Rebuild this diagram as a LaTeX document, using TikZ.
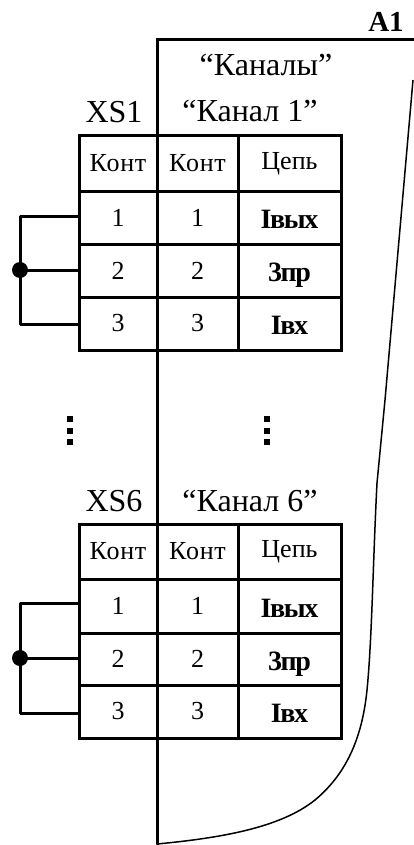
\documentclass[tikz,border=0pt]{standalone}
\usepackage{fontspec}
\setmainfont{Liberation Serif}
\newcommand{\sigtext}[1]{\raisebox{-11pt}[0pt][0pt]{\fontsize{28}{28}\selectfont\bfseries\addfontfeature{LetterSpace=-5}#1}}
\newcommand{\konttext}{{\addfontfeature{LetterSpace=3}Конт}}
\newcommand{\cellrow}[7]{%
  % #1 prefix, #2 row, #3 top y, #4 bottom y, #5..#7 texts
  \pgfmathsetmacro{\cy}{(#3+#4)/2}
  \pgfmathsetmacro{\ch}{#4-#3}
  \node[cell,minimum width=78pt,minimum height=\ch pt] (#1a#2) at (118,\cy) {#5};
  \node[cell,minimum width=81pt,minimum height=\ch pt] (#1b#2) at (197.5,\cy) {#6};
  \node[cell,minimum width=103pt,minimum height=\ch pt] (#1c#2) at (289.5,\cy) {#7};
}
\begin{document}
\begin{tikzpicture}[x=1pt,y=-1pt,
  cell/.style={draw=black,line width=3pt,inner sep=0pt,font=\fontsize{26}{26}\selectfont},
  head/.style={inner sep=0pt,font=\fontsize{32}{32}\selectfont},
  wire/.style={draw=black,line width=3pt},
  nosh/.style={inner sep=0pt},
  dotn/.style={circle,fill=black,inner sep=0pt,minimum size=16pt},
  sq/.style={fill=black,inner sep=0pt,minimum size=6pt}]
\useasboundingbox (0,0) rectangle (414,845);
\fill[white] (0,0) rectangle (414,845);
% module outline
\coordinate (tr) at (414,40);
\coordinate (tl) at (157,40);
\coordinate (bl) at (157,844);
\draw[wire,line cap=round] (tr) -- (tl) -- (bl);
\draw[black,line width=1.5pt] (413,80) -- (385,400) -- (377,483) .. controls (373,560) and (372,640) .. (367,690)
  .. controls (362,740) and (345,775) .. (315,800) .. controls (280,828) and (220,838) .. (bl);
\node[nosh,font=\fontsize{29}{29}\selectfont\bfseries] (a1) at (386,22) {A1};
\node[head] (kanaly) at (266,65) {“Каналы”};
% upper table
\node[head] (xs1) at (114,112) {XS1};
\node[head] (k1) at (250,111) {“Канал 1”};
\cellrow{p}{0}{136}{191}{\konttext}{\konttext}{Цепь}
\cellrow{p}{1}{191}{244}{1}{1}{\sigtext{Iвых}}
\cellrow{p}{2}{244}{297}{2}{2}{\sigtext{3пр}}
\cellrow{p}{3}{297}{350}{3}{3}{\sigtext{Iвх}}
\coordinate (pj) at (20,270);
\coordinate (pt) at (20,216);
\coordinate (pb) at (20,324);
\draw[wire,line join=round] (pa1.west |- pt) -- (pt) -- (pb) -- (pa3.west |- pb);
\draw[wire] (pj) -- (pa2.west |- pj);
\node[dotn] (pd) at (pj) {};
% ellipses
\foreach \yy [count=\i] in {419,431,442} {
  \node[sq] (l\i) at (70,\yy) {};
  \node[sq] (r\i) at (267,\yy) {};
}
% lower table
\node[head] (xs6) at (114,501) {XS6};
\node[head] (k6) at (250,501) {“Канал 6”};
\cellrow{q}{0}{524}{579}{\konttext}{\konttext}{Цепь}
\cellrow{q}{1}{579}{633}{1}{1}{\sigtext{Iвых}}
\cellrow{q}{2}{633}{685}{2}{2}{\sigtext{3пр}}
\cellrow{q}{3}{685}{738}{3}{3}{\sigtext{Iвх}}
\coordinate (qj) at (20,658);
\coordinate (qt) at (20,603);
\coordinate (qb) at (20,713);
\draw[wire,line join=round] (qa1.west |- qt) -- (qt) -- (qb) -- (qa3.west |- qb);
\draw[wire] (qj) -- (qa2.west |- qj);
\node[dotn] (qd) at (qj) {};
\end{tikzpicture}
\end{document}
